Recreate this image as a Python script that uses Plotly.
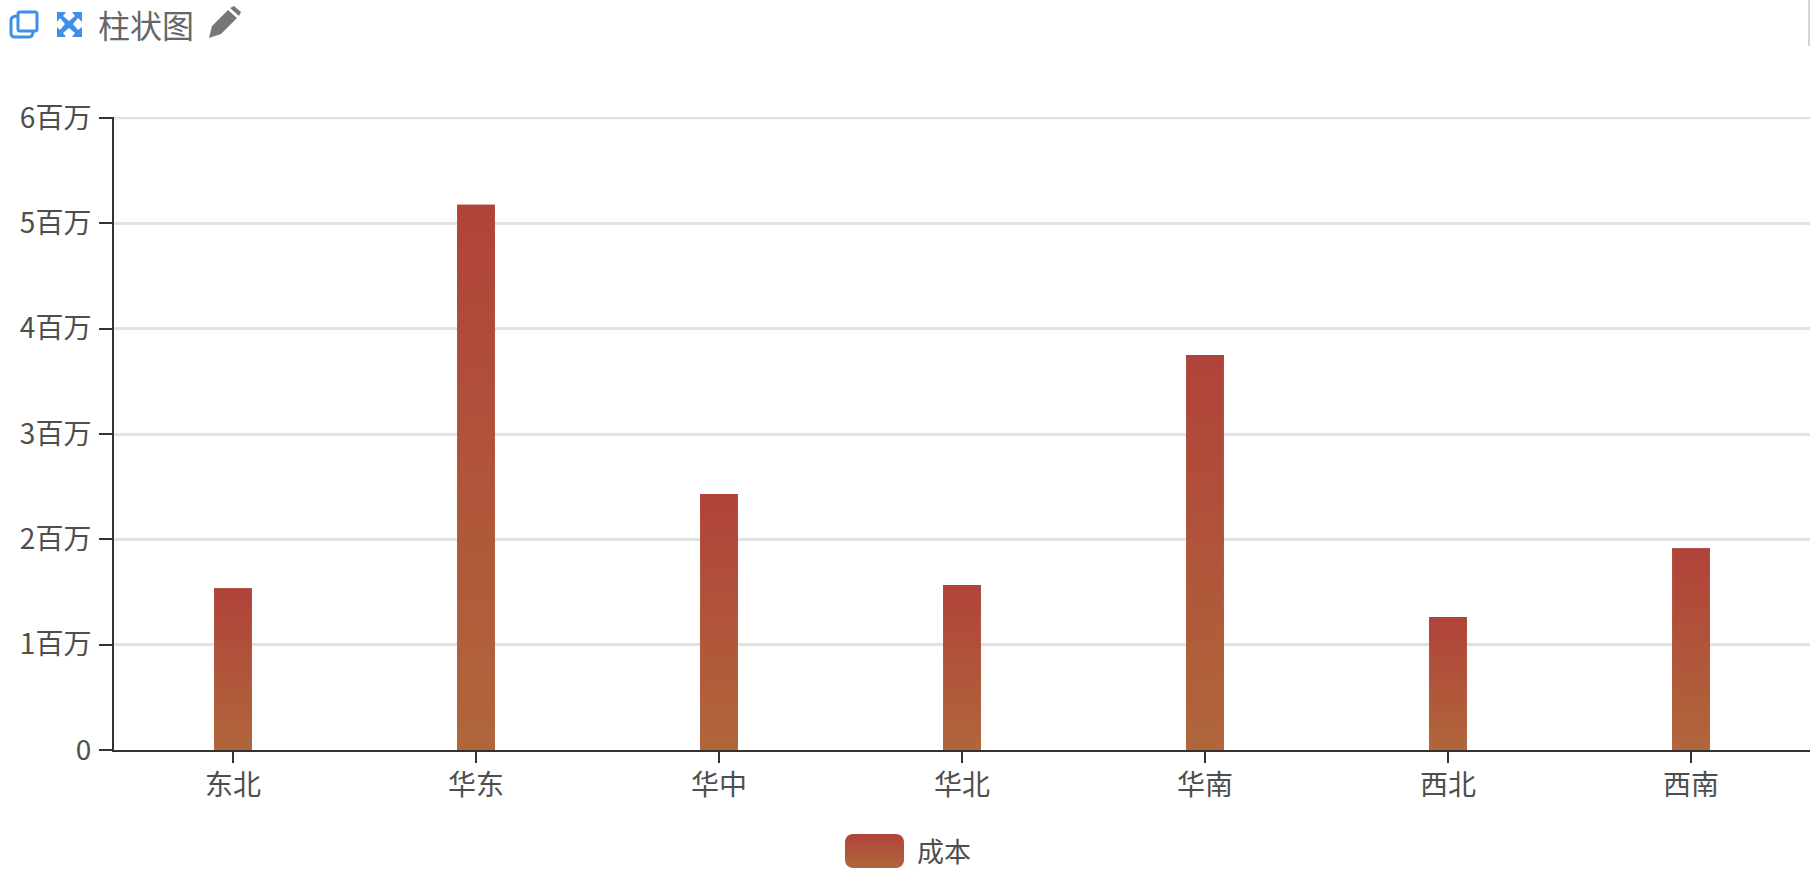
import math
import plotly.graph_objects as go

categories = ["东北", "华东", "华中", "华北", "华南", "西北", "西南"]
cost = [1535000, 5177000, 2430000, 1567000, 3750000, 1263000, 1915000]
y_ticks = [0, 1000000, 2000000, 3000000, 4000000, 5000000, 6000000]
y_labels = ["0", "1百万", "2百万", "3百万", "4百万", "5百万", "6百万"]
series_name = "成本"
title_text = "柱状图"

W, H = 1810, 880
FONT = "Noto Sans CJK SC"
TXT = "#4e4e4e"
TOP = "#b0433a"
BOT = "#b0663a"
MID = "#b0553a"
scale = [[0, BOT], [1, TOP]]
bar_w = 0.155

fig = go.Figure()
idx = list(range(len(categories)))
fig.add_trace(go.Bar(x=idx, y=cost, width=bar_w, marker=dict(color=MID, line=dict(width=0)),
                     name=series_name, showlegend=False))
for i, v in zip(idx, cost):
    fig.add_trace(go.Scatter(
        x=[i - bar_w / 2, i + bar_w / 2, i + bar_w / 2, i - bar_w / 2, i - bar_w / 2],
        y=[0, 0, v, v, 0], mode="none", fill="toself",
        fillgradient=dict(type="vertical", colorscale=scale),
        showlegend=False, hoverinfo="skip"))

# legend swatch on a second axis pair measured in page pixels
x0, x1, y0, y1, r = 845, 904, 834, 868, 8
sx, sy = [], []
for cx, cy, start in [(x1 - r, y0 + r, -90), (x1 - r, y1 - r, 0), (x0 + r, y1 - r, 90), (x0 + r, y0 + r, 180)]:
    for k in range(7):
        a = math.radians(start + 15 * k)
        sx.append(cx + r * math.cos(a))
        sy.append(cy + r * math.sin(a))
sx.append(sx[0])
sy.append(sy[0])
fig.add_trace(go.Scatter(x=sx, y=sy, xaxis="x2", yaxis="y2", mode="none",
                         fill="toself", fillgradient=dict(type="vertical", colorscale=scale),
                         showlegend=False, hoverinfo="skip"))

BLUE = "#3d8fe8"
GREY = "#777777"
shapes = [
    # top gridline, which plotly drops at the edge of the range
    dict(type="line", xref="x", yref="y", x0=-0.4897, x1=6.4897, y0=6000000, y1=6000000, layer="below",
         line=dict(color="#e2e2e2", width=2.5)),
    # copy icon
    dict(type="path", xref="x2", yref="y2", line=dict(color=BLUE, width=3), fillcolor="rgba(0,0,0,0)",
         path="M 20 12 L 35 12 Q 37 12 37 14 L 37 29 Q 37 31 35 31 L 20 31 Q 18 31 18 29 L 18 14 Q 18 12 20 12 Z"),
    dict(type="path", xref="x2", yref="y2", line=dict(color=BLUE, width=3), fillcolor="rgba(0,0,0,0)",
         path="M 18 16 Q 11 16 11 20 L 11 33 Q 11 37 15 37 L 29 37 Q 33 37 33 31"),
    # expand icon
    dict(type="path", xref="x2", yref="y2", line=dict(width=0), fillcolor=BLUE,
         path="M 57 12 L 66 12 L 63 16 L 69 21 L 75 16 L 72 12 L 82 12 L 82 22 L 78 18 L 73 24 L 78 30 L 82 27 "
              "L 82 37 L 72 37 L 75 33 L 69 28 L 63 33 L 66 37 L 57 37 L 57 27 L 60 30 L 65 24 L 60 18 L 57 22 Z"),
    # pencil icon
    dict(type="path", xref="x2", yref="y2", line=dict(width=0), fillcolor=GREY,
         path="M 209 38 L 212 26 L 228 10 L 237 18 L 221 34 Z"),
    dict(type="path", xref="x2", yref="y2", line=dict(width=0), fillcolor=GREY,
         path="M 230 8 L 234 6 L 241 12 L 239 16 Z"),
    # sliver of a page scrollbar at the top right
    dict(type="rect", xref="x2", yref="y2", x0=1808, x1=1810, y0=0, y1=46, line=dict(width=0), fillcolor="#d4d4d4"),
]

annotations = [
    dict(x=96, y=24, xref="x2", yref="y2", text=title_text, showarrow=False, xanchor="left", yanchor="middle",
         font=dict(family=FONT, size=32, color="#666666")),
    dict(x=915, y=850, xref="x2", yref="y2", text=series_name, showarrow=False, xanchor="left", yanchor="middle",
         font=dict(family=FONT, size=27, color=TXT)),
]

fig.update_layout(
    width=W, height=H, autosize=False, margin=dict(l=0, r=0, t=0, b=0),
    paper_bgcolor="white", plot_bgcolor="rgba(0,0,0,0)", barmode="overlay", showlegend=False,
    font=dict(family=FONT, size=28, color=TXT),
    shapes=shapes, annotations=annotations,
    xaxis=dict(domain=[114 / W, 1], range=[-0.4897, 6.4897], tickmode="array", tickvals=idx, ticktext=categories,
               showgrid=False, zeroline=False, showline=True, linecolor="#333333", linewidth=2, automargin=False,
               ticks="outside", ticklen=11, tickwidth=2, tickcolor="#333333", anchor="y", ticklabelstandoff=-2,
               tickfont=dict(family=FONT, size=28, color=TXT)),
    yaxis=dict(domain=[1 - 750 / H, 1 - 117 / H], range=[0, 6009500], tickmode="array", tickvals=y_ticks, ticktext=y_labels,
               showgrid=True, gridcolor="#e2e2e2", gridwidth=2.5, zeroline=False, showline=True, linecolor="#333333",
               linewidth=2, ticks="outside", ticklen=13, tickwidth=2, tickcolor="#333333", anchor="x", automargin=False,
               ticklabelstandoff=2, tickfont=dict(family=FONT, size=28, color=TXT)),
    xaxis2=dict(domain=[0, 1], range=[0, W], visible=False, anchor="y2", fixedrange=True, automargin=False),
    yaxis2=dict(domain=[0, 1], range=[H, 0], visible=False, anchor="x2", fixedrange=True, automargin=False),
)

fig.write_html("out.html", config=dict(displayModeBar=False),
               post_script="document.body.style.margin='0';document.body.style.overflow='hidden';")
